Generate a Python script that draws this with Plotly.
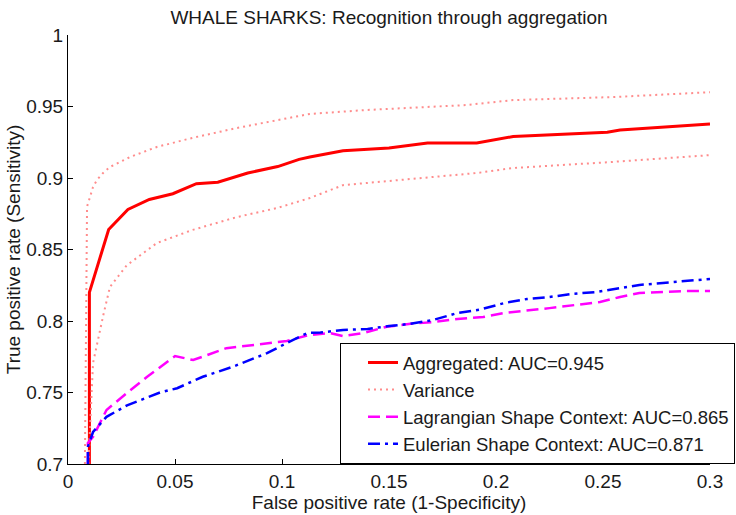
import plotly.graph_objects as go

# ---- data ----
agg_x = [0.01, 0.01, 0.019, 0.028, 0.038, 0.049, 0.06, 0.07, 0.084, 0.098, 0.108, 0.113,
         0.1285, 0.15, 0.168, 0.191, 0.208, 0.252, 0.258, 0.3]
agg_y = [0.70, 0.82, 0.864, 0.878, 0.885, 0.889, 0.896, 0.897, 0.9035, 0.908, 0.913, 0.9147,
         0.919, 0.921, 0.9245, 0.9245, 0.929, 0.932, 0.9335, 0.9378]

var_up_x = [0.0079, 0.0085, 0.0089, 0.0103, 0.0117, 0.0135, 0.0164, 0.0196, 0.029, 0.0415,
            0.058, 0.079, 0.0977, 0.113, 0.14, 0.186, 0.208, 0.255, 0.3]
var_up_y = [0.70, 0.86, 0.880, 0.8867, 0.8937, 0.8986, 0.9035, 0.9077, 0.9147, 0.9217,
            0.928, 0.935, 0.9406, 0.9448, 0.9476, 0.951, 0.9545, 0.9566, 0.96]

var_lo_x = [0.0095, 0.0117, 0.0164, 0.0196, 0.0275, 0.0415, 0.058, 0.079, 0.0977, 0.113,
            0.1285, 0.168, 0.191, 0.208, 0.252, 0.3]
var_lo_y = [0.70, 0.7706, 0.8035, 0.8238, 0.839, 0.8545, 0.8636, 0.8727, 0.879, 0.886,
            0.895, 0.9007, 0.9035, 0.907, 0.911, 0.916]

lag_x = [0.0093, 0.0093, 0.0117, 0.018, 0.0276, 0.037, 0.05, 0.0585, 0.074, 0.0866, 0.1023,
         0.112, 0.1224, 0.1285, 0.138, 0.149, 0.16, 0.1706, 0.182, 0.194, 0.204, 0.225,
         0.236, 0.2486, 0.258, 0.267, 0.278, 0.289, 0.3]
lag_y = [0.70, 0.7147, 0.719, 0.7378, 0.7497, 0.761, 0.7755, 0.7727, 0.781, 0.783, 0.786,
         0.790, 0.7916, 0.7895, 0.7916, 0.796, 0.798, 0.7993, 0.8014, 0.8028, 0.8056, 0.809,
         0.811, 0.8133, 0.8168, 0.8196, 0.8203, 0.821, 0.821]

eul_x = [0.0093, 0.0093, 0.0117, 0.018, 0.0276, 0.043, 0.051, 0.063, 0.077, 0.093, 0.105,
         0.112, 0.118, 0.1285, 0.14, 0.15, 0.16, 0.1706, 0.182, 0.1925, 0.204, 0.2145,
         0.225, 0.236, 0.247, 0.258, 0.267, 0.278, 0.289, 0.3]
eul_y = [0.70, 0.712, 0.7224, 0.733, 0.741, 0.750, 0.753, 0.761, 0.768, 0.7775, 0.7867,
         0.7916, 0.792, 0.7937, 0.7944, 0.7965, 0.798, 0.8007, 0.8056, 0.808, 0.8126, 0.8154,
         0.8168, 0.819, 0.8203, 0.823, 0.8252, 0.8266, 0.828, 0.8294]

x_ticks = [0, 0.05, 0.1, 0.15, 0.2, 0.25, 0.3]
x_tick_text = ["0", "0.05", "0.1", "0.15", "0.2", "0.25", "0.3"]
y_ticks = [0.7, 0.75, 0.8, 0.85, 0.9, 0.95, 1.0]
y_tick_text = ["0.7", "0.75", "0.8", "0.85", "0.9", "0.95", "1"]

names = ["Aggregated: AUC=0.945", "Variance",
         "Lagrangian Shape Context: AUC=0.865", "Eulerian Shape Context: AUC=0.871"]

FONT = "Liberation Sans, Arial, sans-serif"
FS = 19
VAR_COLOR = "#ff8c8c"
TXT = "#1a1a1a"

fig = go.Figure()
fig.add_trace(go.Scatter(x=agg_x, y=agg_y, mode="lines", name=names[0],
                         line=dict(color="#ff0000", width=3)))
fig.add_trace(go.Scatter(x=var_up_x, y=var_up_y, mode="lines", name=names[1],
                         line=dict(color=VAR_COLOR, width=2, dash="2px,4px")))
fig.add_trace(go.Scatter(x=var_lo_x, y=var_lo_y, mode="lines", name=names[1],
                         showlegend=False,
                         line=dict(color=VAR_COLOR, width=2, dash="2px,4px")))
fig.add_trace(go.Scatter(x=lag_x, y=lag_y, mode="lines", name=names[2],
                         line=dict(color="#ff00ff", width=2.5, dash="12px,6px")))
fig.add_trace(go.Scatter(x=eul_x, y=eul_y, mode="lines", name=names[3],
                         line=dict(color="#0000ff", width=2.5, dash="12px,5px,3px,5px")))

fig.update_layout(
    width=736, height=515,
    margin=dict(l=68, r=26, t=35, b=51, autoexpand=False),
    paper_bgcolor="white", plot_bgcolor="white",
    font=dict(family=FONT, size=FS, color=TXT),
    title=dict(text="WHALE SHARKS: Recognition through aggregation",
               x=(68 + 710) / 2 / 736, xanchor="center", y=1 - 17 / 515, yanchor="middle",
               font=dict(family=FONT, size=FS, color=TXT)),
    showlegend=True,
    legend=dict(x=(340 - 68) / 642, y=(464 - 343) / 429, xanchor="left", yanchor="top",
                bgcolor="white", bordercolor="black", borderwidth=1,
                font=dict(family=FONT, size=18.5, color=TXT),
                traceorder="normal", indentation=22),
    xaxis=dict(range=[0, 0.3], tickvals=x_ticks, ticktext=x_tick_text,
               showgrid=False, zeroline=False, showline=True, linecolor="black", linewidth=1,
               ticks="inside", ticklen=5, tickcolor="black", mirror=False,
               tickfont=dict(family=FONT, size=FS),
               title=dict(text="False positive rate (1-Specificity)", standoff=0,
                          font=dict(family=FONT, size=FS))),
    yaxis=dict(range=[0.7, 1.0], tickvals=y_ticks, ticktext=y_tick_text,
               showgrid=False, zeroline=False, showline=True, linecolor="black", linewidth=1,
               ticks="inside", ticklen=5, tickcolor="black", mirror=False,
               tickfont=dict(family=FONT, size=FS),
               title=dict(text="True positive rate (Sensitivity)", standoff=0,
                          font=dict(family=FONT, size=FS))),
)

fig.write_html("out.html")
